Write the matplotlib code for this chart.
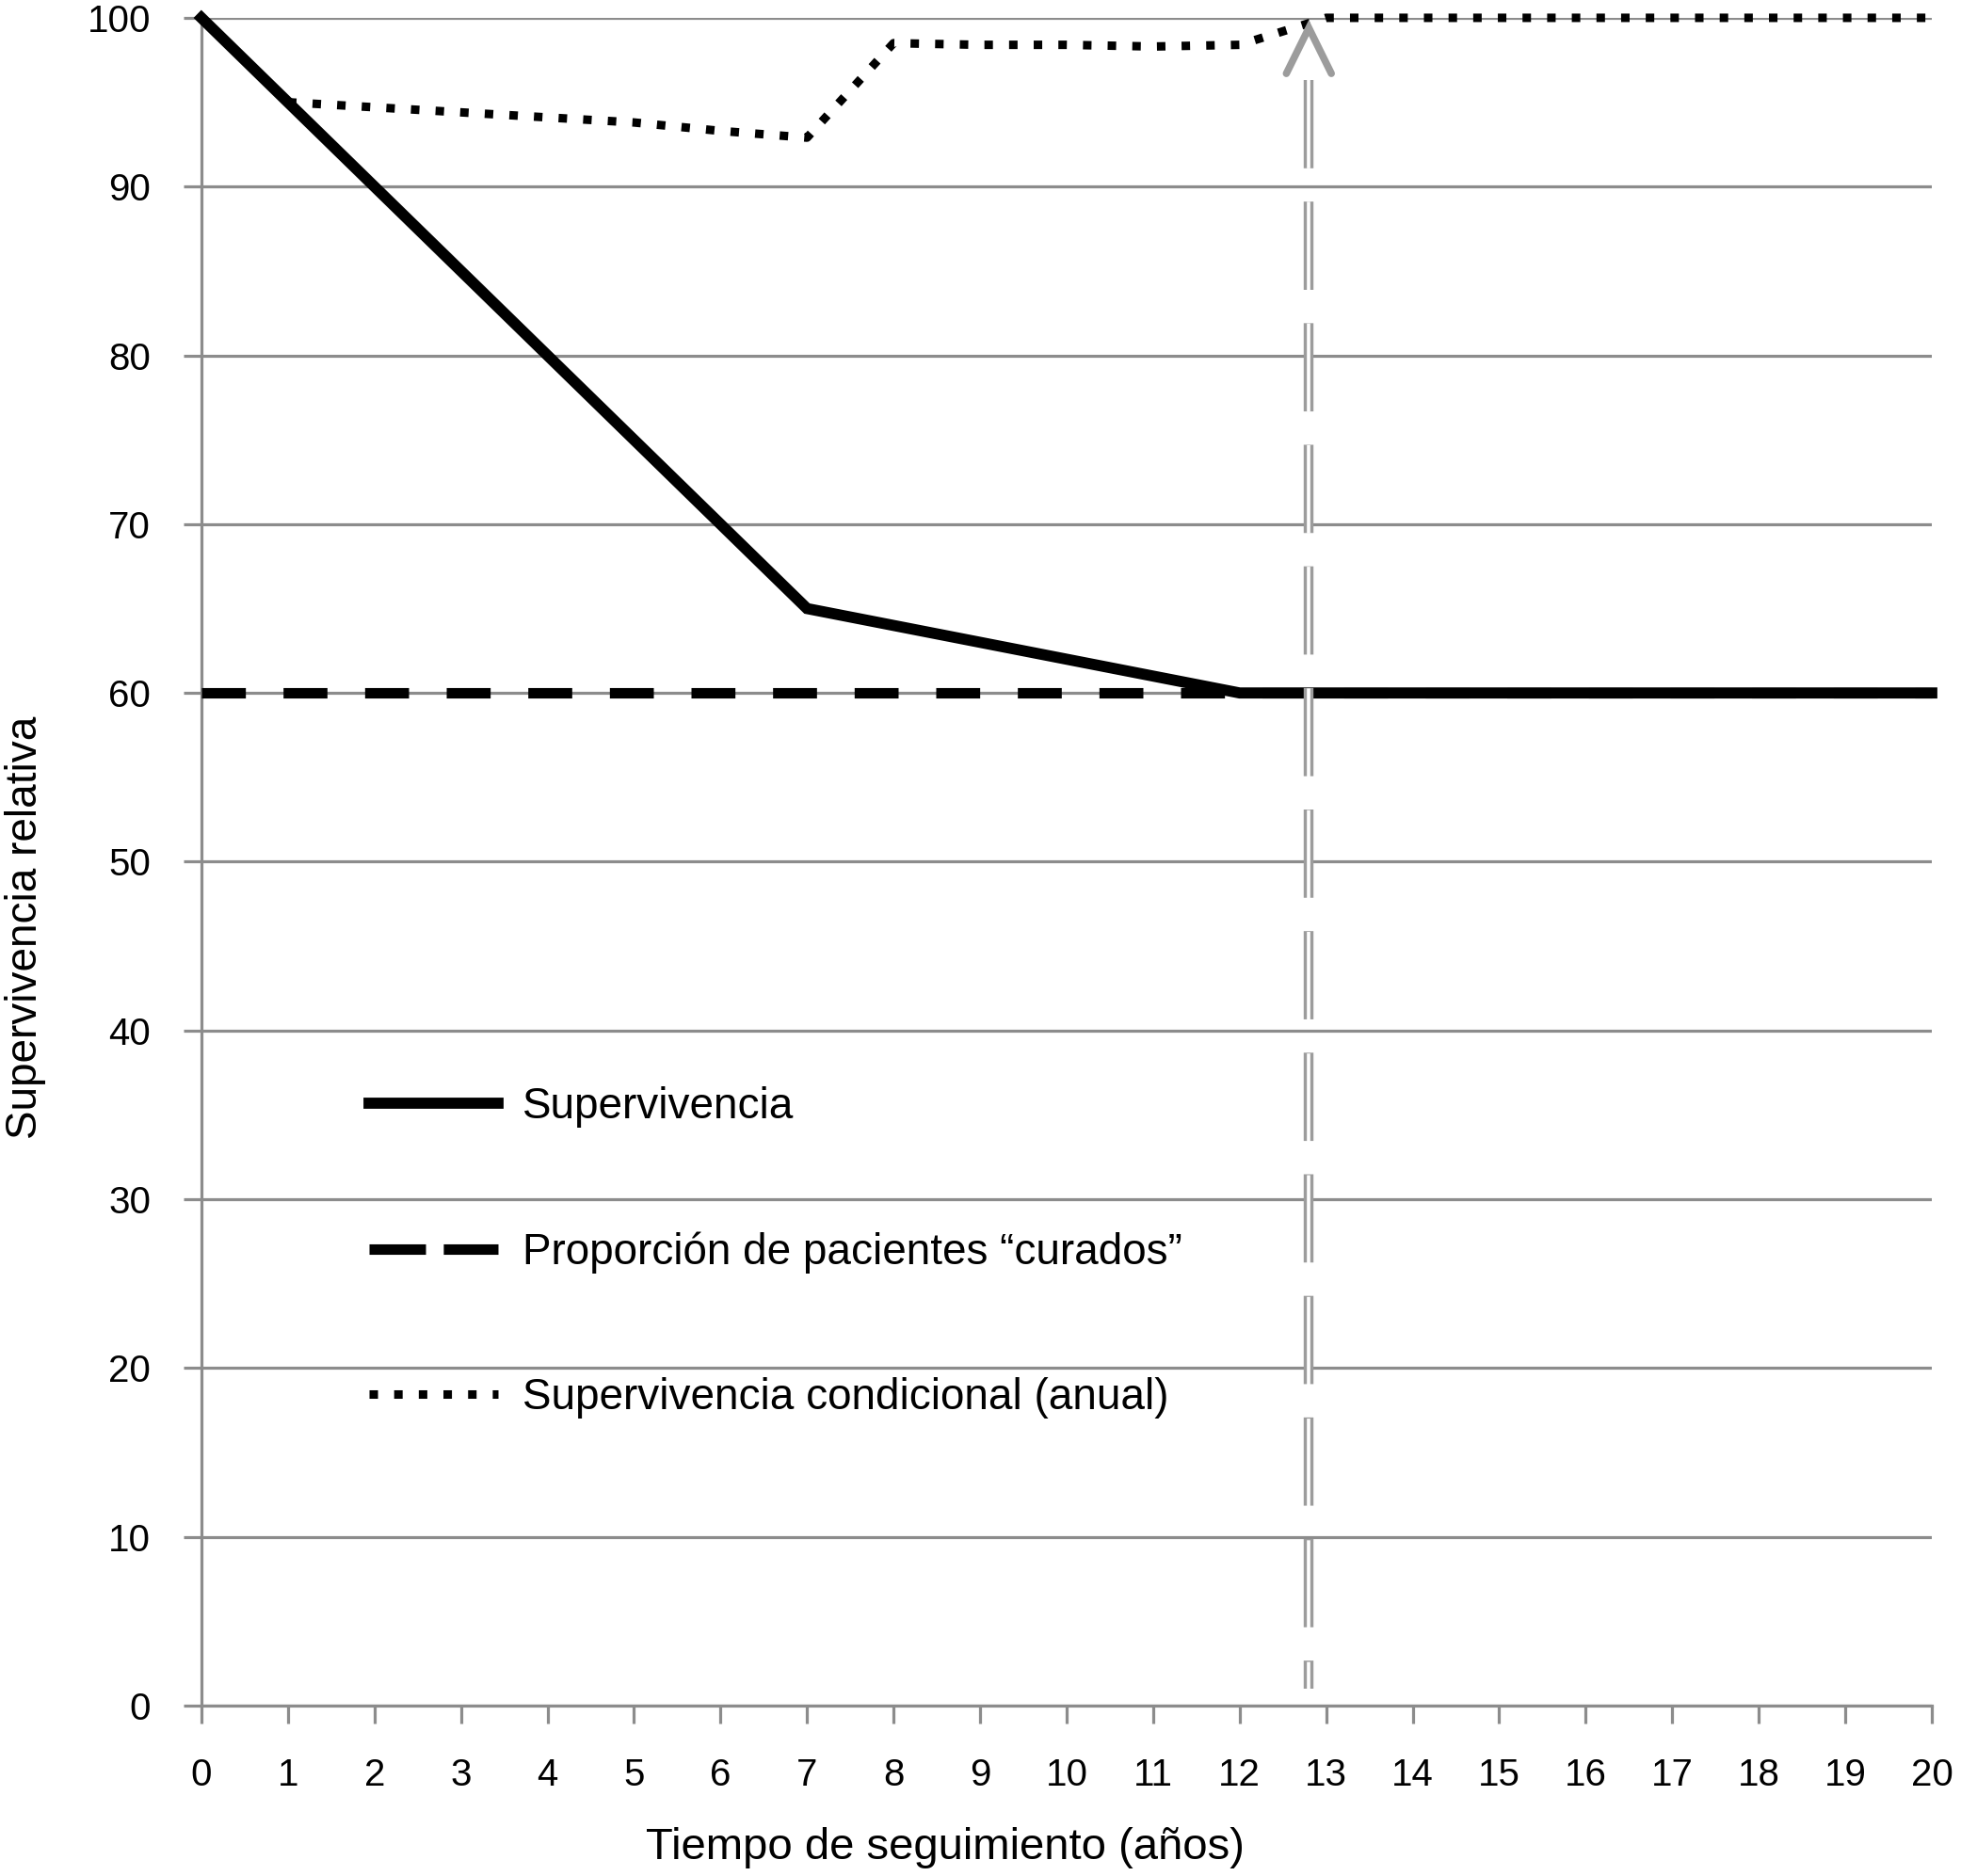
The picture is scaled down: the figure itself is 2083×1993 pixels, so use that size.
import matplotlib
matplotlib.use("Agg")
import matplotlib.pyplot as plt
from matplotlib.lines import Line2D

plt.rcParams['font.family'] = ['Liberation Sans', 'DejaVu Sans']

# datos
years = list(range(0, 21))
supervivencia = [100, 95, 90, 85, 80, 75, 70, 65, 64, 63, 62, 61,
                 60, 60, 60, 60, 60, 60, 60, 60, 60]
curados = [60] * 21
years_cond = list(range(1, 21))
sup_condicional = [95, 94.7, 94.4, 94.1, 93.8, 93.3, 92.9, 98.5, 98.4, 98.4,
                   98.3, 98.4, 100, 100, 100, 100, 100, 100, 100, 100]

labels = ['Supervivencia', 'Proporción de pacientes \u201ccurados\u201d',
          'Supervivencia condicional (anual)']

# flecha (años ~12.8)
arrow_x = 12.8
arrow_y0 = 1.0
arrow_y1 = 96.3
arrow_tip = 99.4
head_w = 0.26
head_h = 2.7

gris = '#8c8c8c'
gris_flecha = '#9c9c9c'

fig = plt.figure(figsize=(20.83, 19.93), dpi=100)
ax = fig.add_axes([0.1027, 0.0908, 0.8824, 0.8997])

ax.set_xlim(0, 20)
ax.set_ylim(0, 100)
ax.set_xticks(range(0, 21))
ax.set_yticks(range(0, 101, 10))

ax.grid(axis='y', color=gris, lw=2.3, zorder=0)
ax.set_axisbelow(True)
for s in ['top', 'right']:
    ax.spines[s].set_visible(False)
for s in ['left', 'bottom']:
    ax.spines[s].set_color(gris)
    ax.spines[s].set_linewidth(2.3)

ax.tick_params(axis='both', colors=gris, width=2.3, length=13.7,
               labelsize=29, labelcolor='black')
ax.tick_params(axis='x', pad=26)
ax.tick_params(axis='y', pad=25)

# lineas
l2, = ax.plot(years, curados, color='black', lw=8, dashes=(4.2, 3.6),
              solid_capstyle='butt', dash_capstyle='butt', zorder=3, clip_on=False)
l1, = ax.plot(years, supervivencia, color='black', lw=8.5, zorder=4,
              solid_joinstyle='miter', clip_on=False)
l3, = ax.plot(years_cond, sup_condicional, color='black', lw=6.5, dashes=(1, 1.9),
              dash_capstyle='butt', zorder=5, clip_on=False)

# flecha doble gris discontinua
ax.plot([arrow_x, arrow_x], [arrow_y1, arrow_y0], color=gris_flecha, lw=7.5,
        dashes=(9, 3.4), dash_capstyle='butt', zorder=6)
ax.plot([arrow_x, arrow_x], [arrow_y1, arrow_y0], color='white', lw=2.6,
        dashes=(26, 9.8), dash_capstyle='butt', zorder=7)
ax.plot([arrow_x - head_w, arrow_x, arrow_x + head_w],
        [arrow_tip - head_h, arrow_tip, arrow_tip - head_h],
        color=gris_flecha, lw=5.5, solid_capstyle='round', solid_joinstyle='miter',
        zorder=7, clip_on=False)

# leyenda
h1 = Line2D([], [], color='black', lw=8.5)
h2 = Line2D([], [], color='black', lw=8, dashes=(5.4, 1.7), dash_capstyle='butt')
h3 = Line2D([], [], color='black', lw=6.5, dashes=(1, 1.9), dash_capstyle='butt')
ax.legend([h1, h2, h3], labels, loc='center left', bbox_to_anchor=(0.0968, 0.2685),
          frameon=False, fontsize=33, handlelength=3.0, handletextpad=0.55,
          labelspacing=2.4, borderpad=0, borderaxespad=0)

ax.set_xlabel('Tiempo de seguimiento (años)', fontsize=34)
ax.xaxis.label.set_va('center')
ax.xaxis.set_label_coords(0.43, -0.084)
ax.set_ylabel('Supervivencia relativa', fontsize=33)
ax.yaxis.label.set_va('center')
ax.yaxis.set_label_coords(-0.1017, 0.461)

fig.savefig('out.png', dpi=100, facecolor='white')
